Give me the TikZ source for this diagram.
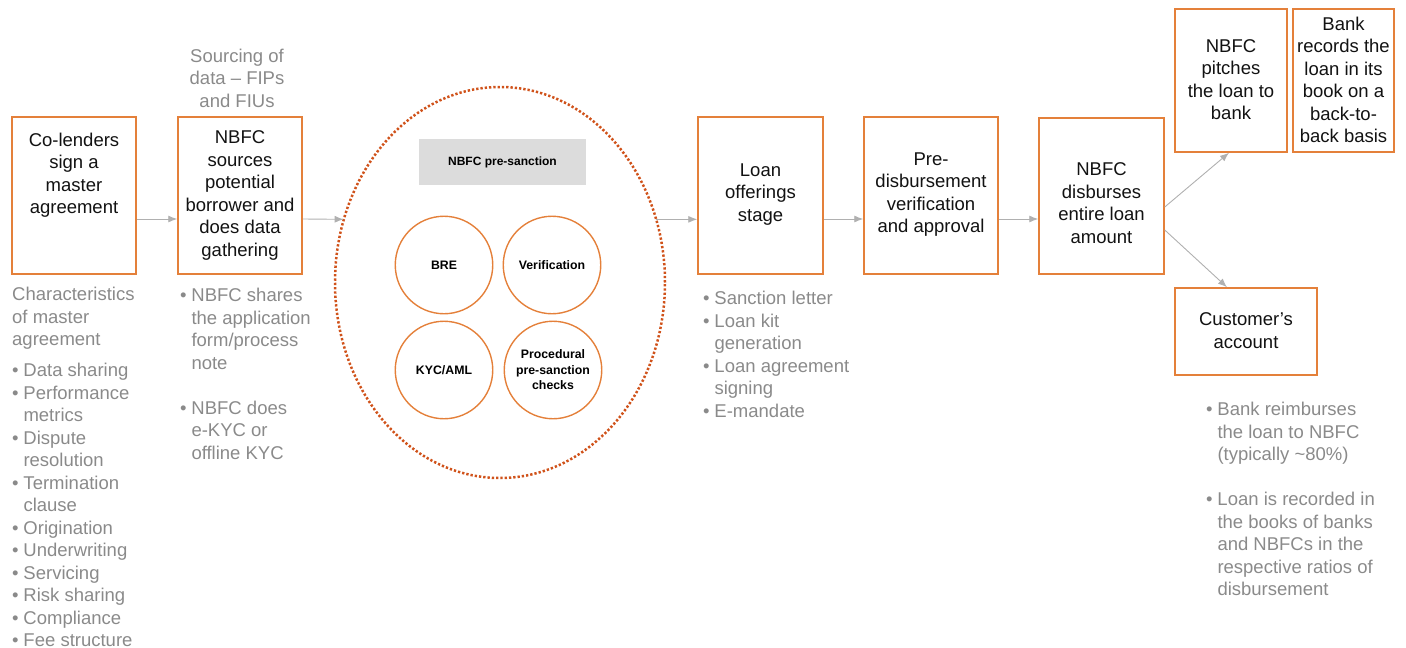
\documentclass[tikz,border=0pt]{standalone}
\usepackage{fontspec}
\setmainfont{Liberation Sans}
\usetikzlibrary{shapes.geometric,arrows.meta}
\definecolor{boxor}{HTML}{E4803A}
\definecolor{dotor}{HTML}{D0521A}
\definecolor{graytxt}{HTML}{8A8A8A}
\definecolor{arrowgray}{HTML}{B0B0B0}
\definecolor{tagfill}{HTML}{DCDCDC}
\newcommand\bl{\makebox[11.3pt][l]{•}}
\newcommand\ind{\hspace*{11.3pt}}
\tikzset{
  stepbox/.style={draw=boxor, line width=1.5pt, fill=white, inner sep=0pt},
  big/.style={font=\fontsize{18.5}{22.5}\selectfont, align=center, inner sep=0pt, text=black!93},
  note/.style={font=\fontsize{18.5}{22.5}\selectfont, align=left, inner sep=0pt, text=graytxt, anchor=north west},
  flow/.style={-{Latex[length=9pt,width=7pt]}, draw=arrowgray, line width=0.9pt},
  sub/.style={circle, draw=boxor, line width=1.4pt, minimum size=97.5pt, inner sep=0pt,
              font=\bfseries\fontsize{12.3}{15.5}\selectfont, align=center},
}
\begin{document}
\begin{tikzpicture}[x=1pt,y=-1pt]
\useasboundingbox (0,0) rectangle (1406,648);

% boxes
\node[stepbox, minimum width=124pt, minimum height=157pt] (b1) at (74,195.5) {};
\node[big] (t1) at (74,175) {Co-lenders\\sign a\\master\\agreement};
\node[stepbox, minimum width=124pt, minimum height=157pt] (b2) at (240,195.5) {};
\node[big] (t2) at (240,195.5) {NBFC\\sources\\potential\\borrower and\\does data\\gathering};
\node[big, text=graytxt] (src) at (237,78) {Sourcing of\\data – FIPs\\and FIUs};

% pre-sanction ellipse
\node[ellipse, minimum width=330pt, minimum height=391pt, inner sep=0pt] (ell) at (500,282.5) {};
\draw[draw=dotor, line width=2.5pt, dash pattern=on 2.3pt off 2pt, line cap=butt]
  (ell.center) ellipse [x radius=165pt, y radius=195.5pt];
\node[fill=tagfill, minimum width=167pt, minimum height=46pt, inner sep=0pt,
      font=\bfseries\fontsize{12}{14}\selectfont] (tag) at (502.5,162) {NBFC pre-sanction};
\node[sub] (c1) at (444,265) {BRE};
\node[sub] (c2) at (552,265) {Verification};
\node[sub] (c3) at (444,370) {KYC/AML};
\node[sub] (c4) at (553,370) {Procedural\\pre-sanction\\checks};

\node[stepbox, minimum width=125pt, minimum height=157pt] (b3) at (760.5,195.5) {};
\node[big] (t3) at (760.5,194.5) {Loan\\offerings\\stage};
\node[stepbox, minimum width=134pt, minimum height=157pt] (b4) at (931,195.5) {};
\node[big] (t4) at (931,194.5) {Pre-\\disbursement\\verification\\and approval};
\node[stepbox, minimum width=125pt, minimum height=156pt] (b5) at (1101.5,196) {};
\node[big] (t5) at (1101.5,203) {NBFC\\disburses\\entire loan\\amount};
\node[stepbox, minimum width=112pt, minimum height=143pt] (b6) at (1231,80.5) {};
\node[big] (t6) at (1231,79.5) {NBFC\\pitches\\the loan to\\bank};
\node[stepbox, minimum width=101pt, minimum height=143pt] (b7) at (1343.5,80.5) {};
\node[big] (t7) at (1343.5,80) {Bank\\records the\\loan in its\\book on a\\back-to-\\back basis};
\node[stepbox, minimum width=142pt, minimum height=87pt] (b8) at (1246,331.5) {};
\node[big] (t8) at (1246,330.5) {Customer’s\\account};

% connectors
\draw[flow] ([yshift=-23.5pt]b1.east) -- ([yshift=-23.5pt]b2.west);
\draw[flow] ([yshift=-23.5pt]b2.east) -- (ell.158);
\draw[flow] (ell.22) -- (ell.22 -| b3.west);
\draw[flow] ([yshift=-23.5pt]b3.east) -- ([yshift=-23.5pt]b4.west);
\draw[flow] ([yshift=-23.5pt]b4.east) -- ([yshift=-23.5pt]b4.east -| b5.west);
\draw[flow] ([yshift=-11pt]b5.east) -- ([xshift=-2pt]b6.south);
\draw[flow] ([yshift=-34pt]b5.east) -- ([xshift=-19pt]b8.north);

% notes
\node[note] (n1) at (12,287) {Characteristics\\of master\\agreement\\[8.5pt]\bl Data sharing\\\bl Performance\\\ind metrics\\\bl Dispute\\\ind resolution\\\bl Termination\\\ind clause\\\bl Origination\\\bl Underwriting\\\bl Servicing\\\bl Risk sharing\\\bl Compliance\\\bl Fee structure};
\node[note] (n2) at (180,288) {\bl NBFC shares\\\ind the application\\\ind form/process\\\ind note\\[22.5pt]\bl NBFC does\\\ind e-KYC or\\\ind offline KYC};
\node[note] (n3) at (703,291) {\bl Sanction letter\\\bl Loan kit\\\ind generation\\\bl Loan agreement\\\ind signing\\\bl E-mandate};
\node[note] (n4) at (1206,402) {\bl Bank reimburses\\\ind the loan to NBFC\\\ind (typically {\char"007E}80\%)\\[22.5pt]\bl Loan is recorded in\\\ind the books of banks\\\ind and NBFCs in the\\\ind respective ratios of\\\ind disbursement};
\end{tikzpicture}
\end{document}
